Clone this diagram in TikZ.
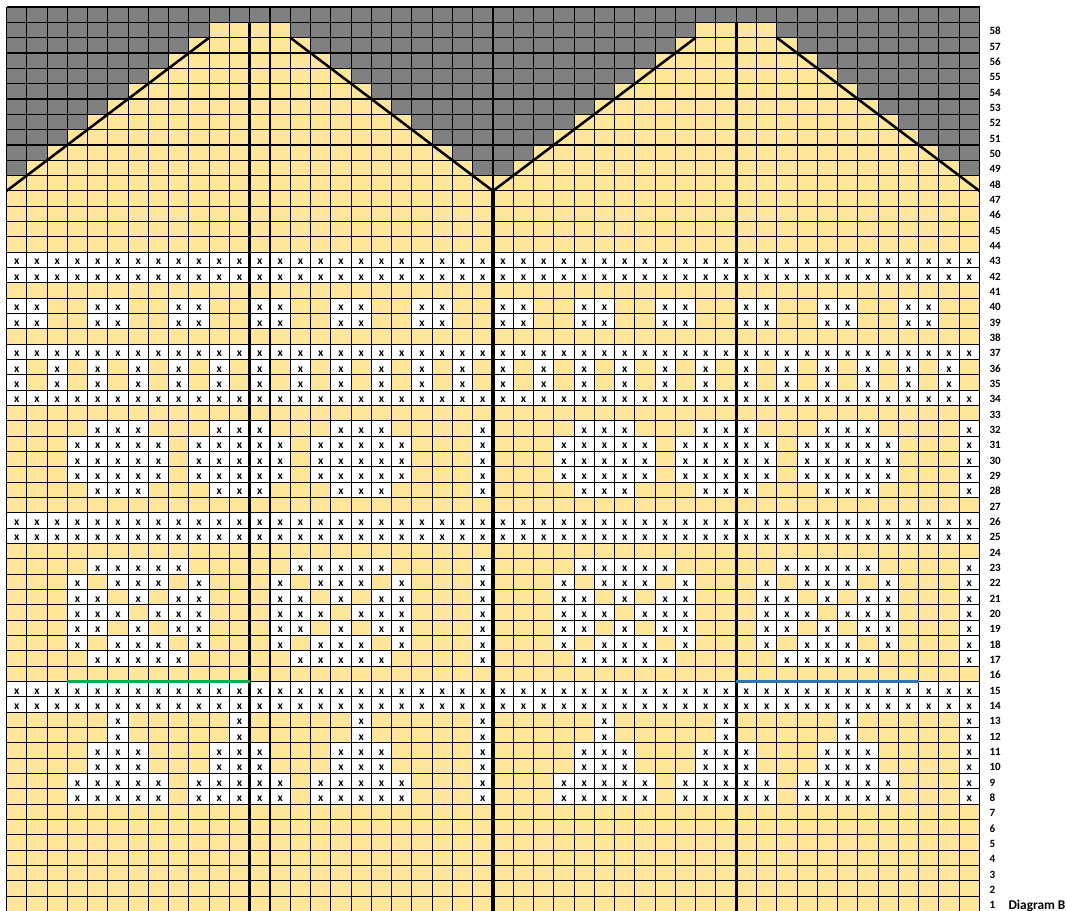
\documentclass[tikz,border=0pt]{standalone}
\usepackage{fontspec}
\setmainfont{Carlito}
\newcommand{\colw}{20.27}
\newcommand{\rowh}{15.33}
\tikzset{every picture/.style={line width=0.75pt}}
\tikzset{
  yellowcell/.style={fill={rgb, 255:red, 255; green, 230; blue, 153 }},
  graycell/.style={fill={rgb, 255:red, 128; green, 128; blue, 128 }},
  whitecell/.style={fill=white},
  gridline/.style={draw=black, line width=0.8pt},
  repeatline/.style={draw=black, line width=2.3pt},
  slopeline/.style={draw=black, line width=1.9pt},
  startline/.style={line width=1.6pt},
  xmark/.style={anchor=base, inner sep=0pt, font=\bfseries\fontsize{8.6}{10}\selectfont},
  rowlabel/.style={anchor=base west, inner sep=0pt, font=\bfseries\fontsize{8.3}{10}\selectfont},
}

\begin{document}
\begin{tikzpicture}[x=0.75pt,y=0.75pt,yscale=-1,xscale=1]
\useasboundingbox (0,0) rectangle (1067,910);

%Shape: Rectangle (chart background)
\fill[yellowcell] (6.5,7) rectangle (979.5,911.5);
%Shape: Rectangle (top row)
\fill[graycell] (6.5,7) rectangle (979.5,{7+\rowh});
%Shape: gray steps above the slopes
\foreach \r in {49,...,58}{
  \foreach \k in {0,24}{
    \fill[graycell] ({6.5+\k*\colw},{7+(59-\r)*\rowh}) rectangle ({6.5+(\k+\r-48)*\colw},{7+(60-\r)*\rowh});
    \fill[graycell] ({6.5+(\k+72-\r)*\colw},{7+(59-\r)*\rowh}) rectangle ({6.5+(\k+24)*\colw},{7+(60-\r)*\rowh});
  }
}

% Pattern cells (one repeat of 24 stitches, drawn twice)
\foreach \r/\cols in {
  43/{0,...,23}, 42/{0,...,23},
  40/{0,1,4,5,8,9,12,13,16,17,20,21}, 39/{0,1,4,5,8,9,12,13,16,17,20,21},
  37/{0,...,23}, 36/{0,2,...,22}, 35/{0,2,...,22}, 34/{0,...,23},
  32/{4,5,6,10,11,12,16,17,18,23},
  31/{3,4,5,6,7,9,10,11,12,13,15,16,17,18,19,23},
  30/{3,4,5,6,7,9,10,11,12,13,15,16,17,18,19,23},
  29/{3,4,5,6,7,9,10,11,12,13,15,16,17,18,19,23},
  28/{4,5,6,10,11,12,16,17,18,23},
  26/{0,...,23}, 25/{0,...,23},
  23/{4,5,6,7,8,14,15,16,17,18,23},
  22/{3,5,6,7,9,13,15,16,17,19,23},
  21/{3,4,6,8,9,13,14,16,18,19,23},
  20/{3,4,5,7,8,9,13,14,15,17,18,19,23},
  19/{3,4,6,8,9,13,14,16,18,19,23},
  18/{3,5,6,7,9,13,15,16,17,19,23},
  17/{4,5,6,7,8,14,15,16,17,18,23},
  15/{0,...,23}, 14/{0,...,23},
  13/{5,11,17,23}, 12/{5,11,17,23},
  11/{4,5,6,10,11,12,16,17,18,23}, 10/{4,5,6,10,11,12,16,17,18,23},
  9/{3,4,5,6,7,9,10,11,12,13,15,16,17,18,19,23},
  8/{3,4,5,6,7,9,10,11,12,13,15,16,17,18,19,23}}{
  \foreach \c in \cols{
    \foreach \k in {0,24}{
      \pgfmathtruncatemacro{\cc}{\c+\k}
      \fill[whitecell] ({6.5+\cc*\colw},{7+(59-\r)*\rowh}) rectangle ({6.5+(\cc+1)*\colw},{7+(60-\r)*\rowh});
      \node[xmark] (x-\cc-\r) at ({6.5+(\cc+0.5)*\colw},{7+(59.5-\r)*\rowh+4.9}) {x};
    }
  }
}

%Straight Lines (grid)
\foreach \c in {0,...,48}
  \draw[gridline] ({6.5+\c*\colw},7) -- ({6.5+\c*\colw},911.5);
\foreach \i in {0,...,59}
  \draw[gridline] (6.5,{7+\i*\rowh}) -- (979.5,{7+\i*\rowh});

%Straight Lines (repeat borders)
\draw[repeatline] ({6.5+12*\colw},{7+\rowh}) -- ({6.5+12*\colw},911.5);
\draw[repeatline] ({6.5+24*\colw},{7+12*\rowh}) -- ({6.5+24*\colw},911.5);
\draw[repeatline] ({6.5+36*\colw},{7+\rowh}) -- ({6.5+36*\colw},911.5);

%Straight Lines (slopes)
\draw[slopeline] (6.5,{7+12*\rowh}) -- ({6.5+10*\colw},{7+2*\rowh});
\draw[slopeline] ({6.5+14*\colw},{7+2*\rowh}) -- ({6.5+24*\colw},{7+12*\rowh});
\draw[slopeline] ({6.5+24*\colw},{7+12*\rowh}) -- ({6.5+34*\colw},{7+2*\rowh});
\draw[slopeline] ({6.5+38*\colw},{7+2*\rowh}) -- ({6.5+48*\colw},{7+12*\rowh});

%Straight Lines (size markers)
\draw[startline, color={rgb, 255:red, 0; green, 176; blue, 80 }] ({6.5+3*\colw},{7+44*\rowh}) -- ({6.5+12*\colw},{7+44*\rowh});
\draw[startline, color={rgb, 255:red, 46; green, 117; blue, 182 }] ({6.5+36*\colw},{7+44*\rowh}) -- ({6.5+45*\colw},{7+44*\rowh});

% Text Node (row numbers)
\foreach \r in {1,...,58}
  \node[rowlabel] (row\r) at (989,{7+(59.5-\r)*\rowh+4.9}) {\r};
% Text Node
\node[rowlabel, font=\bfseries\fontsize{10}{12}\selectfont] (diagramB) at (1008,{7+58.5*\rowh+5.6}) {Diagram B};

\end{tikzpicture}
\end{document}
